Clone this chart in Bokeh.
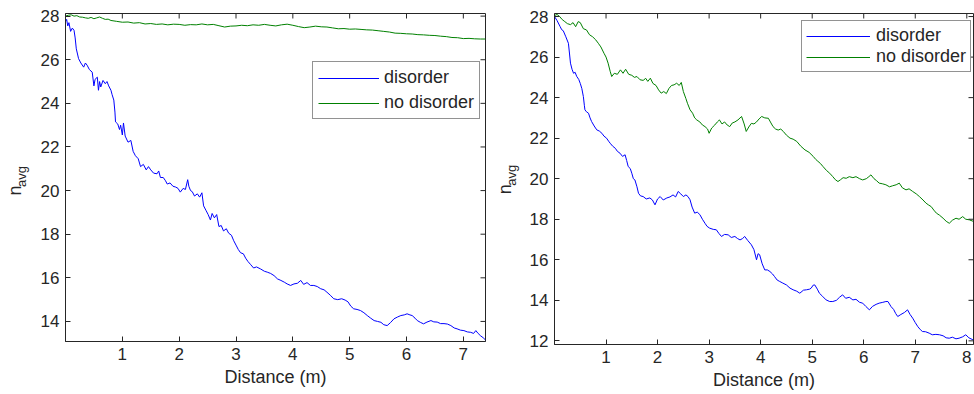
import math
from bokeh.plotting import figure
from bokeh.models import (FixedTicker, Legend, LegendItem, Range1d)
from bokeh.core.properties import value
from bokeh.layouts import row
from bokeh.embed import file_html
from bokeh.resources import INLINE

# ---------------- data ----------------
# Left panel
left_dis_x = [0.00, 0.02, 0.04, 0.06, 0.09, 0.12, 0.15, 0.17, 0.19, 0.23, 0.27, 0.32, 0.35, 0.38, 0.42, 0.47,
              0.50, 0.52, 0.56, 0.58, 0.60, 0.62, 0.66, 0.70, 0.73, 0.76, 0.80, 0.82, 0.85, 0.87, 0.88, 0.92,
              0.95, 0.97, 1.00, 1.02, 1.05, 1.10, 1.15, 1.19, 1.23, 1.28, 1.32, 1.37, 1.42, 1.46, 1.50, 1.55,
              1.61, 1.64, 1.67, 1.72, 1.76, 1.79, 1.84, 1.89, 1.94, 1.98, 2.02, 2.07, 2.11, 2.15, 2.17, 2.20,
              2.23, 2.27, 2.32, 2.36, 2.40, 2.43, 2.47, 2.51, 2.55, 2.58, 2.62, 2.66, 2.70, 2.74, 2.78, 2.83,
              2.87, 2.92, 2.96, 3.00, 3.04, 3.08, 3.13, 3.17, 3.21, 3.26, 3.31, 3.36, 3.43, 3.50, 3.55, 3.61,
              3.67, 3.73, 3.79, 3.85, 3.90, 3.96, 4.02, 4.08, 4.14, 4.19, 4.25, 4.31, 4.37, 4.43, 4.49, 4.55,
              4.60, 4.66, 4.72, 4.79, 4.86, 4.92, 4.97, 5.02, 5.07, 5.13, 5.19, 5.25, 5.31, 5.37, 5.43, 5.49,
              5.55, 5.60, 5.66, 5.72, 5.78, 5.84, 5.90, 5.96, 6.01, 6.06, 6.10, 6.15, 6.19, 6.25, 6.30, 6.36,
              6.43, 6.48, 6.54, 6.60, 6.66, 6.72, 6.78, 6.84, 6.89, 6.95, 7.01, 7.07, 7.13, 7.18, 7.22, 7.26,
              7.30, 7.35, 7.39]
left_dis_y = [27.75, 27.85, 27.55, 27.70, 27.30, 27.45, 27.35, 27.00, 26.50, 26.05, 25.85, 25.66, 25.85, 25.75, 25.55, 25.43,
              24.80, 25.10, 25.20, 24.60, 25.00, 24.75, 25.05, 24.90, 25.00, 24.80, 24.60, 24.40, 24.15, 23.60, 23.15, 23.05,
              22.80, 23.00, 22.55, 23.10, 22.50, 22.22, 22.30, 21.80, 21.60, 21.46, 21.10, 21.20, 20.95, 21.10, 20.95, 20.80,
              20.77, 20.90, 20.60, 20.60, 20.45, 20.30, 20.35, 20.20, 20.16, 20.10, 19.93, 20.10, 20.05, 20.50, 20.20, 20.00,
              19.95, 19.75, 19.85, 19.70, 19.90, 19.30, 19.10, 18.90, 18.65, 18.95, 18.75, 18.90, 18.35, 18.40, 18.15, 18.25,
              18.05, 17.95, 17.70, 17.50, 17.30, 17.15, 17.10, 16.90, 16.75, 16.60, 16.45, 16.50, 16.41, 16.30, 16.26, 16.20,
              16.10, 15.95, 15.88, 15.80, 15.72, 15.65, 15.72, 15.75, 15.88, 15.70, 15.78, 15.65, 15.65, 15.60, 15.50, 15.45,
              15.34, 15.20, 15.04, 15.00, 15.04, 14.98, 14.90, 14.70, 14.58, 14.55, 14.50, 14.40, 14.27, 14.15, 14.04, 14.00,
              13.96, 13.85, 13.81, 13.95, 14.12, 14.20, 14.27, 14.30, 14.35, 14.30, 14.27, 14.15, 14.04, 13.95, 13.89, 13.97,
              14.04, 13.98, 13.97, 13.90, 13.90, 13.88, 13.81, 13.70, 13.66, 13.60, 13.58, 13.52, 13.50, 13.45, 13.58, 13.45,
              13.35, 13.25, 13.15]
left_nodis_x = [0.00, 0.05, 0.10, 0.15, 0.20, 0.25, 0.30, 0.35, 0.40, 0.45, 0.50, 0.55, 0.60, 0.65, 0.70, 0.75,
                0.80, 0.90, 1.00, 1.10, 1.20, 1.30, 1.40, 1.50, 1.60, 1.70, 1.80, 1.90, 2.00, 2.10, 2.20, 2.30,
                2.40, 2.50, 2.60, 2.70, 2.80, 2.90, 3.00, 3.10, 3.20, 3.30, 3.40, 3.50, 3.60, 3.70, 3.80, 3.90,
                4.00, 4.10, 4.20, 4.30, 4.40, 4.50, 4.60, 4.70, 4.80, 4.90, 5.00, 5.10, 5.20, 5.30, 5.40, 5.50,
                5.60, 5.70, 5.80, 5.90, 6.00, 6.10, 6.20, 6.30, 6.40, 6.50, 6.60, 6.70, 6.80, 6.90, 7.00, 7.10,
                7.20, 7.30, 7.39]
left_nodis_y = [28.00, 28.04, 28.06, 28.00, 28.02, 27.96, 27.95, 27.92, 27.90, 27.94, 27.88, 27.92, 27.96, 27.90, 27.85, 27.86,
                27.80, 27.76, 27.72, 27.73, 27.68, 27.70, 27.64, 27.66, 27.62, 27.64, 27.60, 27.63, 27.62, 27.58, 27.61, 27.60,
                27.64, 27.60, 27.62, 27.56, 27.50, 27.54, 27.55, 27.58, 27.56, 27.60, 27.58, 27.62, 27.58, 27.55, 27.60, 27.63,
                27.58, 27.52, 27.47, 27.50, 27.54, 27.51, 27.50, 27.46, 27.42, 27.43, 27.40, 27.41, 27.39, 27.37, 27.36, 27.33,
                27.30, 27.27, 27.22, 27.21, 27.19, 27.18, 27.15, 27.14, 27.12, 27.11, 27.08, 27.06, 27.02, 27.01, 26.97, 26.98,
                26.96, 26.95, 26.95]

# Right panel
right_dis_x = [0.00, 0.05, 0.11, 0.14, 0.17, 0.22, 0.27, 0.29, 0.31, 0.34, 0.37, 0.40, 0.43, 0.47, 0.50, 0.53,
               0.56, 0.58, 0.59, 0.62, 0.66, 0.69, 0.72, 0.77, 0.82, 0.87, 0.92, 0.96, 1.01, 1.05, 1.08, 1.13,
               1.18, 1.22, 1.27, 1.32, 1.37, 1.40, 1.43, 1.47, 1.50, 1.53, 1.56, 1.60, 1.63, 1.67, 1.72, 1.78,
               1.85, 1.90, 1.95, 2.00, 2.05, 2.11, 2.18, 2.24, 2.30, 2.35, 2.40, 2.45, 2.50, 2.55, 2.59, 2.63,
               2.67, 2.72, 2.77, 2.82, 2.87, 2.92, 2.96, 3.01, 3.08, 3.14, 3.19, 3.24, 3.30, 3.37, 3.43, 3.50,
               3.55, 3.60, 3.65, 3.69, 3.75, 3.82, 3.87, 3.92, 3.95, 3.98, 4.03, 4.08, 4.13, 4.18, 4.23, 4.27,
               4.32, 4.37, 4.43, 4.50, 4.57, 4.63, 4.70, 4.76, 4.83, 4.89, 4.95, 4.98, 5.02, 5.05, 5.10, 5.14,
               5.20, 5.27, 5.34, 5.40, 5.47, 5.53, 5.59, 5.65, 5.72, 5.79, 5.85, 5.92, 5.98, 6.04, 6.11, 6.17,
               6.24, 6.30, 6.37, 6.43, 6.47, 6.53, 6.58, 6.62, 6.66, 6.72, 6.79, 6.85, 6.90, 6.95, 7.00, 7.05,
               7.10, 7.14, 7.20, 7.27, 7.33, 7.40, 7.47, 7.54, 7.60, 7.66, 7.72, 7.79, 7.85, 7.92, 7.98, 8.04,
               8.12]
right_dis_y = [28.00, 27.80, 27.50, 27.35, 27.30, 27.00, 26.68, 26.20, 25.70, 25.40, 25.20, 25.25, 25.05, 24.90, 24.70, 24.45,
               24.05, 23.60, 23.40, 23.30, 23.23, 23.00, 22.82, 22.60, 22.41, 22.35, 22.24, 22.10, 22.00, 21.85, 21.75, 21.60,
               21.50, 21.35, 21.26, 21.10, 21.18, 20.90, 20.60, 20.50, 20.27, 20.00, 19.94, 19.60, 19.28, 19.15, 19.12, 19.00,
               19.05, 18.95, 18.71, 19.00, 19.12, 18.95, 19.05, 19.10, 19.20, 19.10, 19.37, 19.25, 19.12, 19.20, 19.12, 18.96,
               18.60, 18.30, 18.35, 18.23, 18.00, 17.80, 17.65, 17.56, 17.50, 17.48, 17.30, 17.15, 17.25, 17.23, 17.10, 17.15,
               17.05, 16.98, 17.05, 17.15, 16.95, 16.74, 16.50, 16.00, 16.30, 16.25, 15.80, 15.50, 15.50, 15.42, 15.30, 15.17,
               15.00, 14.93, 14.85, 14.76, 14.60, 14.52, 14.45, 14.35, 14.50, 14.52, 14.55, 14.60, 14.75, 14.76, 14.55, 14.35,
               14.20, 14.02, 13.94, 13.94, 14.00, 14.15, 14.27, 14.10, 14.15, 14.02, 14.05, 13.90, 13.86, 13.70, 13.53, 13.70,
               13.80, 13.86, 13.90, 13.94, 13.94, 13.69, 13.55, 13.35, 13.20, 13.30, 13.40, 13.53, 13.30, 13.12, 12.90, 12.70,
               12.55, 12.46, 12.45, 12.38, 12.30, 12.32, 12.30, 12.25, 12.15, 12.13, 12.18, 12.10, 12.13, 12.20, 12.30, 12.15,
               12.05]
right_nodis_x = [0.00, 0.05, 0.10, 0.15, 0.20, 0.25, 0.31, 0.36, 0.41, 0.46, 0.50, 0.56, 0.62, 0.68, 0.74, 0.80,
                 0.85, 0.90, 0.96, 1.00, 1.04, 1.08, 1.11, 1.16, 1.22, 1.28, 1.33, 1.38, 1.44, 1.50, 1.55, 1.60,
                 1.66, 1.72, 1.77, 1.81, 1.86, 1.91, 1.97, 2.02, 2.07, 2.12, 2.17, 2.22, 2.27, 2.32, 2.37, 2.42,
                 2.46, 2.50, 2.55, 2.58, 2.63, 2.68, 2.72, 2.76, 2.82, 2.87, 2.92, 2.97, 3.00, 3.05, 3.11, 3.16,
                 3.20, 3.25, 3.30, 3.35, 3.40, 3.45, 3.50, 3.56, 3.63, 3.68, 3.72, 3.77, 3.82, 3.87, 3.92, 3.97,
                 4.02, 4.08, 4.15, 4.20, 4.24, 4.29, 4.34, 4.39, 4.44, 4.50, 4.57, 4.63, 4.70, 4.78, 4.86, 4.94,
                 5.02, 5.07, 5.11, 5.16, 5.21, 5.28, 5.34, 5.40, 5.45, 5.50, 5.55, 5.60, 5.66, 5.72, 5.79, 5.85,
                 5.92, 5.98, 6.05, 6.10, 6.14, 6.20, 6.25, 6.30, 6.36, 6.43, 6.50, 6.56, 6.63, 6.69, 6.75, 6.82,
                 6.88, 6.95, 7.02, 7.08, 7.15, 7.21, 7.26, 7.31, 7.36, 7.41, 7.47, 7.54, 7.60, 7.66, 7.72, 7.79,
                 7.85, 7.92, 7.98, 8.05, 8.12]
right_nodis_y = [28.05, 28.10, 28.00, 27.85, 27.75, 27.65, 27.60, 27.70, 27.50, 27.75, 27.70, 27.40, 27.34, 27.10, 27.00, 26.85,
                 26.68, 26.50, 26.19, 26.00, 25.70, 25.30, 25.04, 25.20, 25.15, 25.37, 25.20, 25.40, 25.15, 25.10, 25.00, 25.04,
                 24.88, 24.85, 24.95, 24.80, 24.96, 24.70, 24.60, 24.38, 24.22, 24.30, 24.20, 24.45, 24.60, 24.63, 24.71, 24.60,
                 24.75, 24.30, 23.95, 23.72, 23.40, 23.23, 23.00, 22.90, 22.80, 22.65, 22.57, 22.45, 22.24, 22.50, 22.65, 22.80,
                 22.90, 22.70, 22.80, 22.65, 22.57, 22.75, 22.80, 22.90, 23.07, 22.70, 22.33, 22.55, 22.73, 22.70, 22.80, 22.95,
                 23.07, 23.00, 22.98, 22.75, 22.57, 22.45, 22.40, 22.45, 22.33, 22.15, 22.00, 21.95, 21.84, 21.60, 21.42, 21.30,
                 21.10, 20.95, 20.86, 20.75, 20.60, 20.40, 20.27, 20.10, 19.95, 19.86, 19.95, 20.05, 20.02, 20.10, 20.05, 20.10,
                 20.00, 19.94, 20.00, 20.10, 20.19, 20.00, 19.90, 19.78, 19.75, 19.70, 19.60, 19.65, 19.70, 19.78, 19.55, 19.45,
                 19.50, 19.37, 19.25, 19.12, 18.95, 18.79, 18.70, 18.62, 18.45, 18.30, 18.20, 18.05, 17.90, 17.80, 17.95, 18.05,
                 18.00, 18.13, 18.00, 17.97, 17.90]

left_xticks = [1, 2, 3, 4, 5, 6, 7]
left_yticks = [14, 16, 18, 20, 22, 24, 26, 28]
right_xticks = [1, 2, 3, 4, 5, 6, 7, 8]
right_yticks = [12, 14, 16, 18, 20, 22, 24, 26, 28]
series_labels = ["disorder", "no disorder"]
x_label = "Distance (m)"
y_label_main = "n"
y_label_sub = "avg"

FONT = "Liberation Sans"
INK = "#262626"
BLUE = "#0000ff"
GREEN = "#008000"
H = 394
STRIP_W = 35


def ylabel_strip(n_center, sub_center):
    """Narrow figure whose frame is the whole strip; holds the rotated n_avg label."""
    s = figure(width=STRIP_W, height=H, x_range=Range1d(0, STRIP_W), y_range=Range1d(0, H),
               x_axis_type=None, y_axis_type=None, output_backend="svg", toolbar_location=None,
               min_border=0, outline_line_color=None,
               background_fill_color="white", border_fill_color="white")
    s.grid.visible = False
    s.text(x=[n_center[0]], y=[H - n_center[1]], text=[y_label_main], angle=math.pi / 2,
           text_align="center", text_baseline="middle",
           text_font=value(FONT), text_font_size="18px", text_color=INK)
    s.text(x=[sub_center[0]], y=[H - sub_center[1]], text=[y_label_sub], angle=math.pi / 2,
           text_align="center", text_baseline="middle",
           text_font=value(FONT), text_font_size="13px", text_color=INK)
    return s


def make_panel(xs, ys, xr, yr, xticks, yticks, borders, frame, legend_loc, legend_cfg):
    bl, br, bt, bb = borders
    fw, fh = frame
    p = figure(frame_width=fw, frame_height=fh, x_range=Range1d(*xr), y_range=Range1d(*yr),
               output_backend="svg", toolbar_location=None,
               min_border_left=bl, min_border_right=br, min_border_top=bt, min_border_bottom=bb,
               background_fill_color="white", border_fill_color="white")
    p.grid.visible = False
    p.outline_line_color = INK
    p.outline_line_width = 1

    r_dis = p.line(xs[0], ys[0], line_color=BLUE, line_width=1)
    r_nod = p.line(xs[1], ys[1], line_color=GREEN, line_width=1)

    for ax, ticks in ((p.xaxis[0], xticks), (p.yaxis[0], yticks)):
        ax.ticker = FixedTicker(ticks=ticks)
        ax.minor_tick_line_color = None
        ax.major_tick_in = 5
        ax.major_tick_out = 0
        ax.axis_line_color = INK
        ax.major_tick_line_color = INK
        ax.major_label_text_font = FONT
        ax.major_label_text_font_size = "17px"
        ax.major_label_text_color = INK
        ax.axis_label_text_font = FONT
        ax.axis_label_text_font_size = "18px"
        ax.axis_label_text_font_style = "normal"
        ax.axis_label_text_color = INK
    p.xaxis[0].axis_label = x_label
    p.xaxis[0].major_label_standoff = 6
    p.xaxis[0].axis_label_standoff = 4
    p.yaxis[0].major_label_standoff = 6

    # mirrored inward ticks on the top and right edges (half of each dash is clipped by the frame)
    p.scatter(xticks, [yr[1]] * len(xticks), marker="dash", angle=math.pi / 2, size=10,
              line_color=INK, line_width=1)
    p.scatter([xr[1]] * len(yticks), yticks, marker="dash", size=10,
              line_color=INK, line_width=1)

    pad, spacing, gw, stand = legend_cfg
    leg = Legend(items=[LegendItem(label=series_labels[0], renderers=[r_dis]),
                        LegendItem(label=series_labels[1], renderers=[r_nod])],
                 location=legend_loc)
    leg.label_text_font = FONT
    leg.label_text_font_size = "18px"
    leg.label_text_color = INK
    leg.border_line_color = INK
    leg.border_line_width = 1
    leg.background_fill_color = "white"
    leg.background_fill_alpha = 1
    leg.padding = pad
    leg.spacing = spacing
    leg.margin = 0
    leg.glyph_width = gw
    leg.glyph_height = 20
    leg.label_height = 20
    leg.label_standoff = stand
    p.add_layout(leg, "center")
    return p


s1 = ylabel_strip((14, 214.5), (20.5, 197.5))
p1 = make_panel((left_dis_x, left_nodis_x), (left_dis_y, left_nodis_y),
                (0, 7.39), (13.08, 28.12), left_xticks, left_yticks,
                (65 - STRIP_W, 5, 13, 53), (420, 328), (247, 222), (5, 4, 61, 5))
s2 = ylabel_strip((14, 213), (20.5, 196))
p2 = make_panel((right_dis_x, right_nodis_x), (right_dis_y, right_nodis_y),
                (0, 8.13), (11.82, 28.15), right_xticks, right_yticks,
                (64 - STRIP_W, 1, 7, 56), (419, 331), (247, 272), (4, 0, 64, 6))

layout = row(s1, p1, s2, p2)
open("out.html", "w").write(file_html(layout, INLINE))
